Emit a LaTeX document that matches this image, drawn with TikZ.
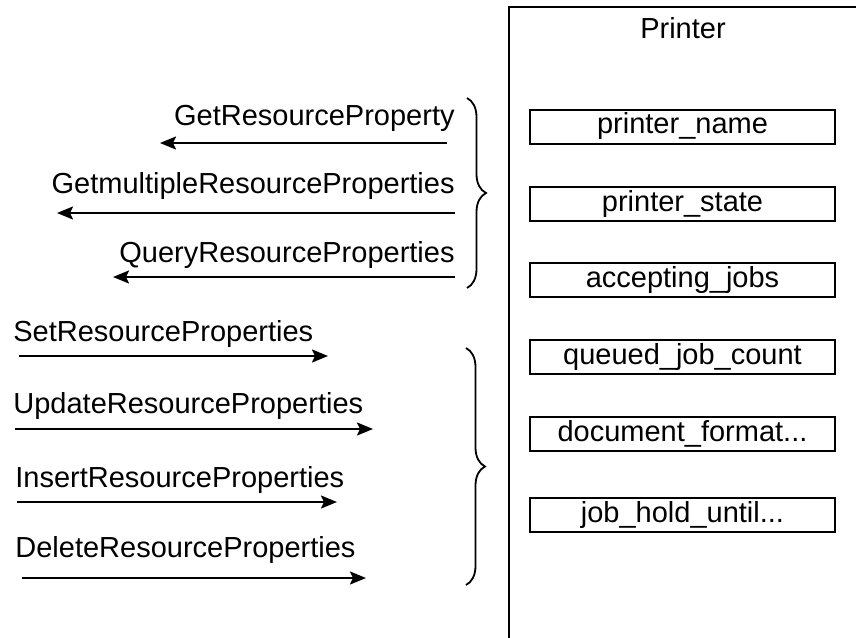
\documentclass[tikz,border=0pt]{standalone}
\usepackage{fontspec}
\setmainfont{Liberation Sans}
\usetikzlibrary{decorations.pathreplacing,arrows.meta}
\newcommand{\opfont}{\fontsize{14.5}{17}\selectfont}

\tikzset{
	op/.style={inner sep=0pt, font=\opfont},
	field/.style={draw, line width=1pt, minimum width=152.5pt, minimum height=17pt, inner sep=0pt, font=\opfont},
	call/.style={-{Stealth[length=8pt, width=6.5pt, inset=1.5pt]}, line width=1pt},
	group/.style={decorate, decoration={brace, amplitude=9.5pt}, line width=0.9pt},
}

\begin{document}
\begin{tikzpicture}[x=0.5pt, y=-0.5pt]
	\useasboundingbox (0,0) rectangle (856,637);

	% the printer resource and its properties
	\draw[line width=1pt] (509,7) rectangle (900,700);
	\node[op, anchor=base] (printer) at (683,39) {Printer};
	\node[field] (pname) at (682.5,126.5) {printer\_name};
	\node[field] (pstate) at (682.5,203.5) {printer\_state};
	\node[field] (accepting) at (682.5,280) {accepting\_jobs};
	\node[field] (queued) at (682.5,357) {queued\_job\_count};
	\node[field] (docformat) at (682.5,434) {document\_format...};
	\node[field] (holduntil) at (682.5,514.5) {job\_hold\_until...};

	% read operations
	\node[op, anchor=base east] (getprop) at (455,125) {GetResourceProperty};
	\node[op, anchor=base east] (getmulti) at (455,193) {GetmultipleResourceProperties};
	\node[op, anchor=base east] (query) at (455,262) {QueryResourceProperties};
	\coordinate (getprop-from) at (447,143);
	\coordinate (getprop-to) at (160,143);
	\coordinate (getmulti-from) at (455,213);
	\coordinate (getmulti-to) at (57,213);
	\coordinate (query-from) at (455,277);
	\coordinate (query-to) at (113,277);
	\draw[call] (getprop-from) -- (getprop-to);
	\draw[call] (getmulti-from) -- (getmulti-to);
	\draw[call] (query-from) -- (query-to);

	% write operations
	\node[op, anchor=base west] (setprops) at (13,341) {SetResourceProperties};
	\node[op, anchor=base west] (updateprops) at (13,413) {UpdateResourceProperties};
	\node[op, anchor=base west] (insertprops) at (15,487) {InsertResourceProperties};
	\node[op, anchor=base west] (deleteprops) at (15,557) {DeleteResourceProperties};
	\coordinate (setprops-from) at (19,356);
	\coordinate (setprops-to) at (328,356);
	\coordinate (updateprops-from) at (15,429);
	\coordinate (updateprops-to) at (373,429);
	\coordinate (insertprops-from) at (17,502);
	\coordinate (insertprops-to) at (337,502);
	\coordinate (deleteprops-from) at (22,578);
	\coordinate (deleteprops-to) at (366,578);
	\draw[call] (setprops-from) -- (setprops-to);
	\draw[call] (updateprops-from) -- (updateprops-to);
	\draw[call] (insertprops-from) -- (insertprops-to);
	\draw[call] (deleteprops-from) -- (deleteprops-to);

	% braces
	\coordinate (read-top) at (467,98);
	\coordinate (read-bot) at (467,288);
	\coordinate (write-top) at (466,348);
	\coordinate (write-bot) at (466,585);
	\draw[group] (read-top) -- (read-bot);
	\draw[group] (write-top) -- (write-bot);
\end{tikzpicture}
\end{document}
